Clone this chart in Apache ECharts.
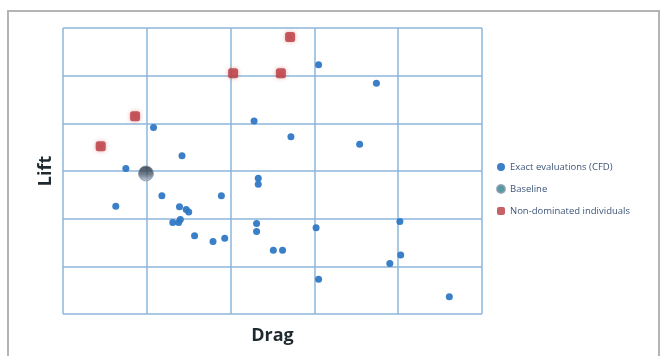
<!DOCTYPE html>
<html><head><meta charset="utf-8">
<script src="https://cdn.jsdelivr.net/npm/echarts@6/dist/echarts.min.js"></script>
<style>html,body{margin:0;padding:0;background:#fff}#c{width:666px;height:356px}</style>
</head><body><div id="c"></div>
<script>
// Drag (x) and Lift (y) values, unitless grid units
const exactX = [1.08,1.42,0.75,2.28,2.33,2.33,3.05,3.74,2.72,3.54,1.18,1.89,0.63,1.39,1.47,1.50,1.31,1.38,1.40,1.57,1.79,1.93,2.31,2.31,2.51,2.62,3.02,3.05,4.02,4.03,3.90,4.61];
const exactY = [3.91,3.32,3.05,4.05,2.85,2.72,5.23,4.84,3.72,3.56,2.48,2.48,2.26,2.25,2.19,2.14,1.92,1.92,1.98,1.64,1.52,1.59,1.90,1.73,1.34,1.34,1.81,0.73,1.94,1.24,1.06,0.36];
const baseX = [0.99];
const baseY = [2.95];
const ndX = [2.71,2.03,2.60,0.86,0.45];
const ndY = [5.81,5.05,5.05,4.15,3.52];
const seriesNames = ['Exact evaluations (CFD)','Baseline','Non-dominated individuals'];

const zip = (a,b)=>a.map((v,i)=>[v,b[i]]);
const chart = echarts.init(document.getElementById('c'));
chart.setOption({
  animation:false,
  backgroundColor:'#fff',
  graphic:[{type:'rect',shape:{x:8,y:11,width:651,height:360},style:{fill:'none',stroke:'#b4b4b4',lineWidth:2},z:-1}],
  grid:{left:63,right:184,top:28,bottom:42},
  legend:{
    orient:'vertical',left:491,top:157,itemGap:12,itemWidth:8,itemHeight:8,
    textStyle:{fontFamily:'Open Sans',fontSize:9.5,color:'#3d5578'},
    data:[
      {name:seriesNames[0],icon:'circle',itemStyle:{color:'#2f78c4'}},
      {name:seriesNames[1],icon:'circle',itemStyle:{color:'#2a7f8a'}},
      {name:seriesNames[2],icon:'roundRect',itemStyle:{color:'#b83a40'}}
    ]
  },
  xAxis:{type:'value',min:0,max:5,interval:1,name:'Drag',nameLocation:'middle',nameGap:13,
    nameTextStyle:{fontFamily:'Open Sans',fontWeight:'bold',fontSize:18,color:'#1e2a30'},
    axisLine:{show:false},axisTick:{show:false},axisLabel:{show:false},
    splitLine:{show:true,lineStyle:{color:'#8cb6da',width:1.5}}},
  yAxis:{type:'value',min:0,max:6,interval:1,name:'Lift',nameLocation:'middle',nameGap:8,
    nameTextStyle:{fontFamily:'Open Sans',fontWeight:'bold',fontSize:18,color:'#1e2a30'},
    axisLine:{show:false},axisTick:{show:false},axisLabel:{show:false},
    splitLine:{show:true,lineStyle:{color:'#8cb6da',width:1.5}}},
  series:[
    {name:seriesNames[0],type:'scatter',symbol:'circle',symbolSize:7,data:zip(exactX,exactY),
      itemStyle:{color:'#2f78c4',opacity:0.95},z:3},
    {name:seriesNames[1],type:'scatter',symbol:'circle',symbolSize:15,data:zip(baseX,baseY),
      itemStyle:{color:new echarts.graphic.LinearGradient(0,0,0,1,[{offset:0,color:'#1c2633'},{offset:0.55,color:'#4a5a6c'},{offset:1,color:'#b8c6d8'}]),
      borderColor:'#8a9aae',borderWidth:1},z:4},
    {name:seriesNames[2],type:'scatter',symbol:'roundRect',symbolSize:10,data:zip(ndX,ndY),
      itemStyle:{color:'#b83a40',shadowColor:'rgba(220,110,110,0.7)',shadowBlur:4},z:5}
  ]
});
</script></body></html>
